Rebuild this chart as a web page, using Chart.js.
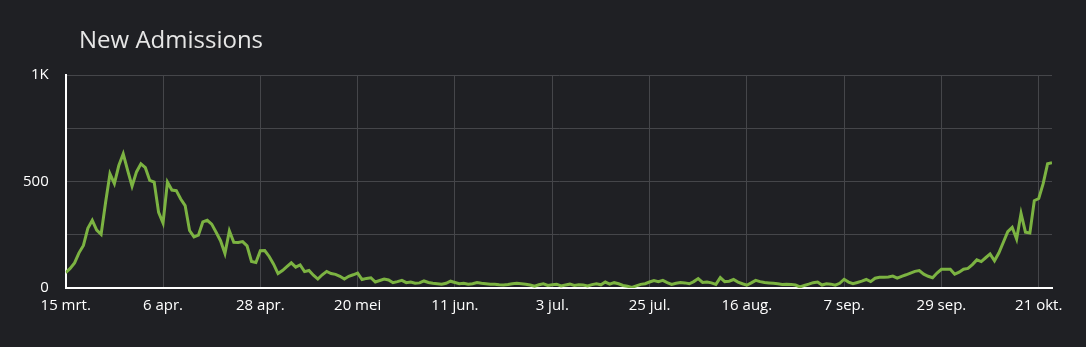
<!DOCTYPE html>
<html>
<head>
<meta charset="utf-8">
<script src="https://cdn.jsdelivr.net/npm/chart.js@4/dist/chart.umd.min.js"></script>
<style>
  html, body { margin: 0; padding: 0; background: #1f2024; }
  #wrap { position: relative; width: 1086px; height: 347px; background: #1f2024; }
  #title { position: absolute; left: 79px; top: 27px; font-family: "Open Sans", sans-serif; font-size: 24px; line-height: 24px; color: #e6e6e6; white-space: nowrap; }
  canvas { position: absolute; left: 0; top: 0; }
</style>
</head>
<body>
<div id="wrap">
  <canvas id="c" width="1086" height="347"></canvas>
  <div id="title">New Admissions</div>
</div>
<script>
// Tick labels every 22 days, starting 15 March 2020
const tickLabels = ['15 mrt.', '6 apr.', '28 apr.', '20 mei', '11 jun.', '3 jul.', '25 jul.', '16 aug.', '7 sep.', '29 sep.', '21 okt.'];
const yTickLabels = { 0: '0', 500: '500', 1000: '1K' };

// Daily new admissions, day 0 = 15 mrt.
const admissions = [
  72, 92, 118, 165, 200, 280, 318, 272, 252, 400,
  536, 490, 575, 630, 552, 478, 545, 583, 565, 505,
  497, 355, 305, 497, 460, 457, 418, 387, 270, 240,
  248, 310, 318, 300, 262, 222, 162, 268, 215, 214,
  218, 198, 125, 120, 175, 176, 148, 112, 68, 82,
  100, 118, 98, 108, 77, 82, 60, 42, 62, 78,
  68, 64, 55, 42, 55, 62, 70, 40, 45, 48,
  28, 35, 42, 38, 25, 30, 36, 25, 28, 22,
  24, 33, 26, 22, 20, 18, 22, 32, 26, 20,
  22, 18, 20, 26, 22, 20, 18, 18, 15, 14,
  16, 20, 22, 20, 18, 14, 8, 15, 20, 12,
  15, 18, 10, 14, 18, 12, 15, 14, 10, 16,
  20, 15, 28, 18, 25, 20, 12, 8, 3, 10,
  17, 20, 28, 35, 30, 36, 25, 17, 22, 26,
  24, 20, 30, 44, 26, 28, 24, 17, 49, 30,
  32, 40, 28, 20, 13, 24, 36, 30, 26, 24,
  22, 20, 17, 18, 17, 14, 5, 12, 18, 25,
  28, 14, 20, 18, 13, 22, 41, 28, 20, 26,
  32, 40, 30, 46, 50, 50, 52, 56, 46, 55,
  62, 70, 78, 82, 65, 55, 48, 70, 88, 88,
  88, 65, 74, 88, 92, 110, 132, 124, 142, 160,
  128, 165, 215, 265, 285, 230, 350, 262, 258, 410,
  420, 490, 583, 588
];

const points = admissions.map((v, i) => ({ x: i, y: v }));
const tickFont = { family: '"Open Sans", sans-serif', size: 15 };

new Chart(document.getElementById('c'), {
  type: 'line',
  data: {
    datasets: [{
      data: points,
      borderColor: '#7cb342',
      borderWidth: 3,
      pointRadius: 0,
      tension: 0,
      fill: false
    }]
  },
  options: {
    responsive: false,
    animation: false,
    events: [],
    layout: { padding: { top: 75, right: 34, bottom: 23, left: 6 } },
    plugins: { legend: { display: false }, title: { display: false }, tooltip: { enabled: false } },
    scales: {
      x: {
        type: 'linear',
        min: 0,
        max: admissions.length - 1,
        grid: { color: '#45464a', lineWidth: 1, drawTicks: false },
        border: { color: '#ffffff', width: 2 },
        ticks: {
          stepSize: 22,
          includeBounds: false,
          autoSkip: false,
          maxRotation: 0,
          padding: 9,
          color: '#ffffff',
          font: tickFont,
          callback: (v) => tickLabels[v / 22]
        }
      },
      y: {
        min: 0,
        max: 1000,
        grid: { color: '#45464a', lineWidth: 1, drawTicks: false },
        border: { color: '#ffffff', width: 2 },
        ticks: {
          stepSize: 250,
          padding: 17,
          color: '#ffffff',
          font: tickFont,
          callback: (v) => (v in yTickLabels ? yTickLabels[v] : '')
        }
      }
    }
  }
});
</script>
</body>
</html>
